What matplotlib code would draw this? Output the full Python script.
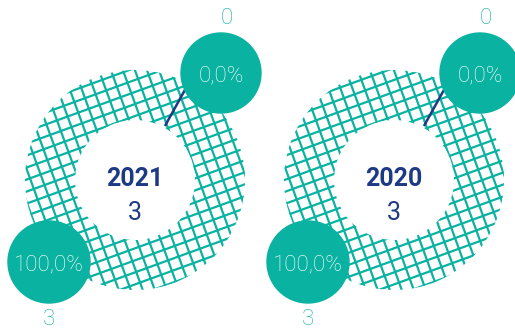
import numpy as np
import matplotlib
matplotlib.use('Agg')
import matplotlib.pyplot as plt
from matplotlib.patches import Circle

# Dados do gráfico
anos = ['2021', '2020']
totais = [3, 3]
# valores por segmento: [segmento superior, segmento inferior]
valores = [[0, 3], [0, 3]]

teal = '#0AB2A1'
azul = '#1E3A84'
plt.rcParams['font.family'] = ['Roboto', 'DejaVu Sans']

fig = plt.figure(figsize=(5.15, 3.32), dpi=100)
ax = fig.add_axes([0, 0, 1, 1])

H = 332
centros_x = [135, 394]
cy = H - 180
r_ext, larg = 110, 50

for i, ano in enumerate(anos):
    cx = centros_x[i]
    vals = valores[i]
    wedges, _ = ax.pie(vals, radius=r_ext, center=(cx, cy), startangle=61,
                       counterclock=False,
                       wedgeprops=dict(width=larg, facecolor='none', edgecolor='none'))

    # grade inclinada recortada pelo anel
    ang = np.deg2rad(20)
    d1 = np.array([np.cos(ang), np.sin(ang)])
    d2 = np.array([-np.sin(ang), np.cos(ang)])
    for w in wedges:
        for k in np.arange(-132, 133, 11.3):
            for d, n in ((d1, d2), (d2, d1)):
                p0 = np.array([cx, cy]) + n * k - d * 130
                p1 = np.array([cx, cy]) + n * k + d * 130
                ln, = ax.plot([p0[0], p1[0]], [p0[1], p1[1]], color=teal, lw=1.6,
                              solid_capstyle='butt', zorder=2)
                ln.set_clip_path(w)

    # linha guia
    a = np.deg2rad(61)
    ax.plot([cx + 63 * np.cos(a), cx + 104 * np.cos(a)],
            [cy + 63 * np.sin(a), cy + 104 * np.sin(a)], color=azul, lw=1.8, zorder=3)

    # círculos com percentuais
    pos = [(cx + 86, H - 73, 40), (cx - 86, H - 262, 41)]
    rot = [(cx + 92, H - 16), (cx - 86, H - 317)]
    for j, v in enumerate(vals):
        px, py, rr = pos[j]
        ax.add_patch(Circle((px, py), rr, color=teal, zorder=4))
        pct = f"{v / totais[i] * 100:.1f}%".replace('.', ',')
        ax.text(px, py, pct, color='white', fontsize=16, fontweight='light',
                ha='center', va='center_baseline', zorder=5)
        ax.text(rot[j][0], rot[j][1], str(v), color=teal, fontsize=16,
                fontweight='light', ha='center', va='center_baseline', zorder=5)

    ax.text(cx, H - 176, ano, color=azul, fontsize=18, fontweight='bold',
            ha='center', va='center_baseline')
    ax.text(cx, H - 211, str(totais[i]), color=azul, fontsize=18,
            ha='center', va='center_baseline')

ax.set_xlim(0, 515)
ax.set_ylim(0, H)
ax.set_aspect('equal')
ax.axis('off')

fig.savefig('out.png', dpi=100)
